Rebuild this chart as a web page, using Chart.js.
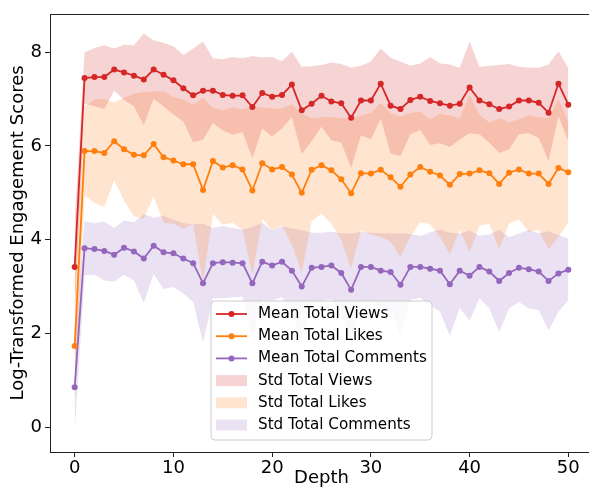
<!DOCTYPE html>
<html lang="en">
<head>
<meta charset="UTF-8">
<title>Engagement by depth</title>
<script src="https://cdn.jsdelivr.net/npm/chart.js"></script>
<style>
  html, body { margin: 0; padding: 0; background: #fff; overflow: hidden; }
  #wrap { width: 589px; height: 489px; overflow: hidden; }
</style>
</head>
<body>
<div id="wrap"><canvas id="chart" width="600" height="489"></canvas></div>
<script>
// depth values on the x axis
const depth = [0,1,2,3,4,5,6,7,8,9,10,11,12,13,14,15,16,17,18,19,20,21,22,23,24,25,
  26,27,28,29,30,31,32,33,34,35,36,37,38,39,40,41,42,43,44,45,46,47,48,49,50];

const viewsMean = [3.42,7.45,7.47,7.47,7.63,7.57,7.50,7.42,7.63,7.52,7.40,7.23,7.08,7.18,7.18,7.09,
  7.07,7.08,6.83,7.13,7.05,7.09,7.31,6.76,6.90,7.07,6.95,6.91,6.60,6.97,6.97,7.33,6.86,6.79,6.98,
  7.05,6.96,6.91,6.86,6.90,7.25,6.97,6.89,6.79,6.84,6.97,6.97,6.92,6.71,7.33,6.88];
const viewsStd = [1.00,0.55,0.62,0.68,0.45,0.59,0.65,0.98,0.62,0.68,0.73,0.71,1.00,1.05,0.69,0.76,
  0.83,0.79,1.09,0.76,0.85,0.72,0.70,0.93,0.80,0.66,0.83,0.84,1.07,0.74,0.83,0.75,1.02,1.01,0.73,
  0.71,0.94,0.85,0.88,0.77,0.98,0.72,0.82,0.94,0.91,0.72,0.70,0.75,1.03,0.69,0.78];

const likesMean = [1.73,5.89,5.89,5.85,6.10,5.93,5.81,5.80,6.04,5.76,5.69,5.61,5.61,5.06,5.68,5.54,
  5.59,5.50,5.05,5.63,5.50,5.55,5.39,5.00,5.49,5.59,5.48,5.29,4.99,5.42,5.41,5.49,5.33,5.13,5.39,
  5.55,5.45,5.37,5.17,5.40,5.41,5.48,5.42,5.19,5.43,5.50,5.41,5.41,5.19,5.53,5.44];
const likesStd = [1.27,0.95,1.10,1.16,0.83,1.10,1.31,1.35,1.12,1.40,1.35,1.38,1.27,1.97,1.13,1.22,
  1.23,1.28,1.80,1.19,1.30,1.25,1.50,1.70,1.10,1.03,1.14,1.30,1.60,1.22,1.30,1.43,1.37,1.50,1.32,
  1.18,1.12,1.32,1.48,1.19,1.68,1.18,1.08,1.40,1.08,1.07,1.24,1.20,1.40,1.47,1.08];

const commentsMean = [0.85,3.82,3.80,3.76,3.68,3.83,3.75,3.60,3.87,3.73,3.71,3.60,3.50,3.07,3.50,3.52,
  3.51,3.50,3.07,3.53,3.45,3.53,3.34,3.00,3.40,3.42,3.45,3.29,2.93,3.42,3.42,3.34,3.31,3.04,3.42,
  3.42,3.38,3.34,3.05,3.34,3.23,3.42,3.32,3.12,3.29,3.40,3.37,3.32,3.12,3.28,3.36];
const commentsStd = [0.95,0.58,0.55,0.63,0.57,0.58,0.62,0.95,0.60,0.78,0.72,0.75,0.83,1.27,0.75,0.77,
  0.74,0.72,1.20,0.83,0.75,0.75,0.90,1.20,0.75,0.73,0.72,0.85,1.20,0.75,0.73,0.80,0.82,1.10,0.70,
  0.66,0.78,0.88,1.10,0.79,0.96,0.67,0.79,1.09,0.76,0.73,0.84,0.82,1.06,0.82,0.66];

const xTicks = [0,10,20,30,40,50];
const yTicks = [0,2,4,6,8];

const meanLabels = ['Mean Total Views','Mean Total Likes','Mean Total Comments'];
const stdLabels = ['Std Total Views','Std Total Likes','Std Total Comments'];
const colors = ['#d62728','#ff7f0e','#9467bd'];

const font = 'DejaVu Sans';

function rgba(hex, a) {
  const n = parseInt(hex.slice(1), 16);
  return 'rgba(' + (n >> 16) + ',' + ((n >> 8) & 255) + ',' + (n & 255) + ',' + a + ')';
}

const means = [viewsMean, likesMean, commentsMean];
const stds = [viewsStd, likesStd, commentsStd];

const datasets = [];
// mean lines (drawn on top)
means.forEach((m, i) => {
  datasets.push({
    label: meanLabels[i],
    data: depth.map((d, j) => ({x: d, y: m[j]})),
    borderColor: colors[i],
    backgroundColor: colors[i],
    borderWidth: 1.8,
    pointRadius: 3,
    pointBorderWidth: 0,
    fill: false,
    order: 0
  });
});
// std bands: upper line filled down to the next (lower) line
means.forEach((m, i) => {
  datasets.push({
    label: stdLabels[i],
    data: depth.map((d, j) => ({x: d, y: m[j] + stds[i][j]})),
    borderColor: 'rgba(0,0,0,0)',
    borderWidth: 0,
    pointRadius: 0,
    backgroundColor: rgba(colors[i], 0.2),
    fill: '+1',
    order: 1
  });
  datasets.push({
    label: stdLabels[i] + ' lower',
    data: depth.map((d, j) => ({x: d, y: m[j] - stds[i][j]})),
    borderColor: 'rgba(0,0,0,0)',
    borderWidth: 0,
    pointRadius: 0,
    fill: false,
    order: 1
  });
});

// frame + matplotlib-style legend
const framePlugin = {
  id: 'frame',
  afterDraw(chart) {
    const ctx = chart.ctx;
    const a = chart.chartArea;
    ctx.save();
    ctx.strokeStyle = '#222';
    ctx.lineWidth = 1;
    ctx.strokeRect(Math.round(a.left) + 0.5, Math.round(a.top) + 0.5,
      Math.round(a.right - a.left), Math.round(a.bottom - a.top));

    // legend box
    const bx = 211, by = 301, bw = 221, bh = 139, r = 4;
    ctx.beginPath();
    ctx.moveTo(bx + r, by);
    ctx.arcTo(bx + bw, by, bx + bw, by + bh, r);
    ctx.arcTo(bx + bw, by + bh, bx, by + bh, r);
    ctx.arcTo(bx, by + bh, bx, by, r);
    ctx.arcTo(bx, by, bx + bw, by, r);
    ctx.closePath();
    ctx.fillStyle = 'rgba(255,255,255,0.8)';
    ctx.fill();
    ctx.strokeStyle = '#cccccc';
    ctx.stroke();

    const rowY = k => 314 + 22.2 * k;
    const hx0 = 216, hx1 = 247;
    ctx.font = '15.2px "' + font + '"';
    ctx.textBaseline = 'middle';
    ctx.textAlign = 'left';
    for (let i = 0; i < 3; i++) {
      const y = rowY(i);
      ctx.strokeStyle = colors[i];
      ctx.lineWidth = 1.8;
      ctx.beginPath();
      ctx.moveTo(hx0, y);
      ctx.lineTo(hx1, y);
      ctx.stroke();
      ctx.fillStyle = colors[i];
      ctx.beginPath();
      ctx.arc((hx0 + hx1) / 2, y, 3, 0, Math.PI * 2);
      ctx.fill();
      ctx.fillStyle = '#000';
      ctx.fillText(meanLabels[i], 258, y);
    }
    for (let i = 0; i < 3; i++) {
      const y = rowY(i + 3);
      ctx.fillStyle = rgba(colors[i], 0.2);
      ctx.fillRect(hx0, y - 5.5, hx1 - hx0, 11);
      ctx.fillStyle = '#000';
      ctx.fillText(stdLabels[i], 258, y);
    }
    ctx.restore();
  }
};

new Chart(document.getElementById('chart'), {
  type: 'line',
  data: {datasets: datasets},
  options: {
    responsive: false,
    animation: false,
    events: [],
    layout: {padding: {left: 0, top: 8, right: 7, bottom: 0}},
    plugins: {legend: {display: false}, tooltip: {enabled: false}},
    scales: {
      x: {
        type: 'linear',
        min: -2.5,
        max: 52.5,
        afterBuildTicks: s => { s.ticks = xTicks.map(v => ({value: v})); },
        afterFit: s => { s.height = 37; },
        border: {display: false},
        grid: {drawOnChartArea: false, color: '#222', tickLength: 5},
        ticks: {color: '#000', font: {family: font, size: 18}, padding: 1, maxRotation: 0},
        title: {display: true, text: 'Depth', color: '#000', font: {family: font, size: 18}, padding: {top: 0, bottom: 0}}
      },
      y: {
        min: -0.53,
        max: 8.82,
        afterBuildTicks: s => { s.ticks = yTicks.map(v => ({value: v})); },
        afterFit: s => { s.width = 50; },
        border: {display: false},
        grid: {drawOnChartArea: false, color: '#222', tickLength: 5},
        ticks: {color: '#000', font: {family: font, size: 18}, padding: 3},
        title: {display: true, text: 'Log-Transformed Engagement Scores', color: '#000', font: {family: font, size: 18}, padding: {top: 8, bottom: 0}}
      }
    }
  },
  plugins: [framePlugin]
});
</script>
</body>
</html>
